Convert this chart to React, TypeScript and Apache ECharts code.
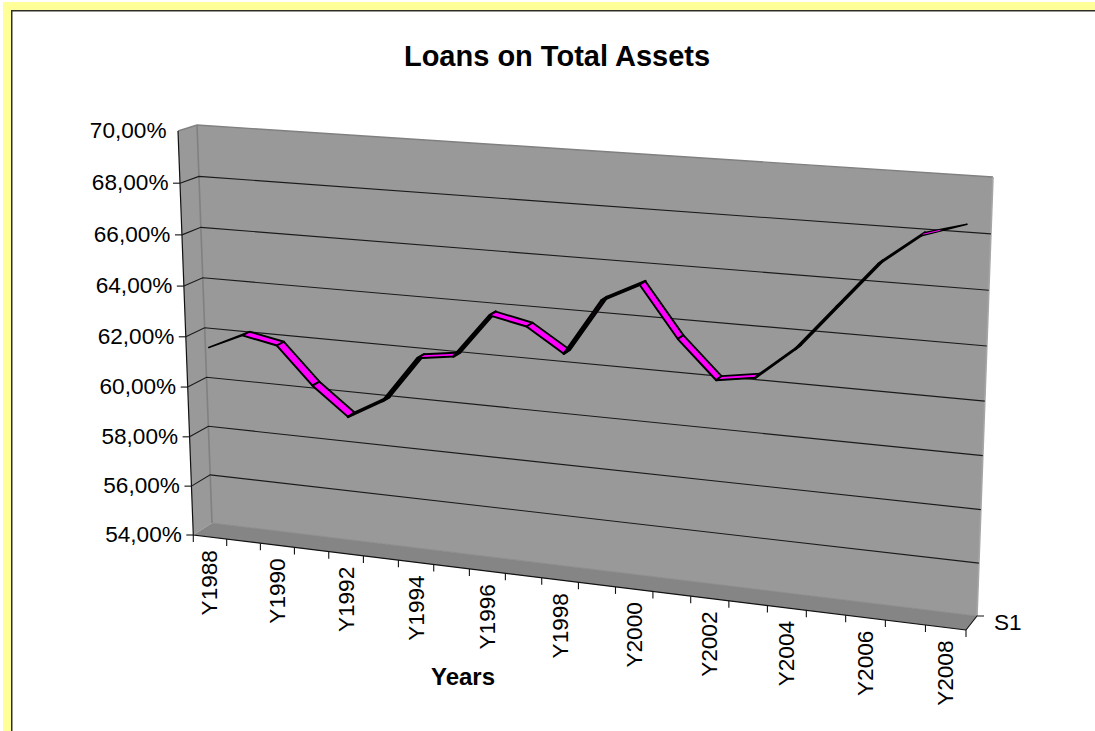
import React, { useEffect, useRef } from "react";
import * as echarts from "echarts";

const categories = ["Y1988","Y1989","Y1990","Y1991","Y1992","Y1993","Y1994","Y1995","Y1996","Y1997","Y1998","Y1999","Y2000","Y2001","Y2002","Y2003","Y2004","Y2005","Y2006","Y2007","Y2008"];
const loanValues = [61.53,62.14,61.87,60.42,59.33,60.1,61.9,62.1,63.8,63.5,62.6,64.72,65.43,63.54,62.14,62.37,63.56,65.22,66.87,67.98,68.38];
const yTicks = [54,56,58,60,62,64,66,68,70];
const yMin = 54;
const yMax = 70;

type P = [number, number];
const homography = (bl: P, br: P, tr: P, tl: P) => {
  const [x0, y0] = bl, [x1, y1] = br, [x2, y2] = tr, [x3, y3] = tl;
  const dx1 = x1 - x2, dx2 = x3 - x2, dx3 = x0 - x1 + x2 - x3;
  const dy1 = y1 - y2, dy2 = y3 - y2, dy3 = y0 - y1 + y2 - y3;
  const den = dx1 * dy2 - dx2 * dy1;
  const g = (dx3 * dy2 - dx2 * dy3) / den;
  const h = (dx1 * dy3 - dx3 * dy1) / den;
  const a = x1 - x0 + g * x1, b = x3 - x0 + h * x3, c = x0;
  const d = y1 - y0 + g * y1, e = y3 - y0 + h * y3, f = y0;
  return (u: number, v: number): P => {
    const w = g * u + h * v + 1;
    return [(a * u + b * v + c) / w, (d * u + e * v + f) / w];
  };
};

const W = 1095, H = 731;
const backBL: P = [212, 523], backBR: P = [977, 616], backTR: P = [993, 177], backTL: P = [197, 125];
const frontBL: P = [193.3, 535], frontBR: P = [966, 630], frontTR: P = [982, 185], frontTL: P = [178, 131];
const back = homography(backBL, backBR, backTR, backTL);
const front = homography(frontBL, frontBR, frontTR, frontTL);
const project = (u: number, v: number, z: number): P => {
  const a = back(u, v), b = front(u, v);
  return [a[0] + (b[0] - a[0]) * z, a[1] + (b[1] - a[1]) * z];
};
const uv = (pt: number[]): P => [pt[0] / W, 1 - pt[1] / H];

const FONT = '"Liberation Sans", Arial, sans-serif';
const labelSize = 22.6;
const lineShape = (pts: P[]) => ({ points: pts });
const poly = (pts: P[], fill: string, stroke?: string, lw = 1) => ({
  type: "polygon", shape: lineShape(pts), style: { fill, stroke: stroke || "none", lineWidth: lw, lineJoin: "round" },
});
const pline = (pts: P[], stroke: string, lw = 1) => ({
  type: "polyline", shape: lineShape(pts), style: { fill: "none", stroke, lineWidth: lw },
});

const renderWalls = () => ({
  type: "group",
  children: [
    poly([backTL, backTR, backBR, backBL], "#999999"),
    poly([frontTL, backTL, backBL, frontBL], "#999999"),
    poly([backBL, backBR, frontBR, frontBL], "#858585"),
    pline([frontTL, backTL, backTR], "#808080", 1.4),
    pline([backTL, backBL], "#808080", 1.6),
    pline([backTR, backBR], "#a6a6a6", 1.6),
    pline([backBL, backBR], "#8c8c8c", 1),
    pline([frontTL, frontBL, frontBR], "#111", 1.2),
  ],
});

const renderYTick = (_: any, api: any) => {
  const [, v] = uv(api.coord([0, api.value(1)]));
  const value = api.value(1);
  const f = front(0, v), b = back(0, v), r = back(1, v);
  const children: any[] = [];
  if (value > yMin && value < yMax) {
    children.push(pline([f, b, r], "#1a1a1a", 1.1));
  }
  if (value < yMax) children.push(pline([f, [f[0] - 7, f[1]]], "#111", 1.1));
  children.push({
    type: "text",
    x: f[0] - 11.5,
    y: f[1] - 0.8,
    style: {
      text: value.toFixed(2).replace(".", ",") + "%",
      textAlign: "right", textVerticalAlign: "middle",
      fontFamily: FONT, fontSize: labelSize, fill: "#000",
    },
  });
  return { type: "group", children };
};

const renderXTick = (params: any, api: any) => {
  const i = params.dataIndex;
  const c = api.coord([i, yMin]);
  const band = api.size([1, 0])[0];
  const uL = (c[0] - band / 2) / W, uC = c[0] / W, uR = (c[0] + band / 2) / W;
  const children: any[] = [];
  const tick = (u: number) => {
    const p = front(u, 0);
    children.push(pline([p, [p[0], p[1] + 7]], "#111", 1.1));
  };
  tick(uL);
  if (i === categories.length - 1) tick(uR);
  if (i % 2 === 0) {
    const p = front(uC, 0);
    children.push({
      type: "text", x: p[0], y: p[1] + 13, rotation: Math.PI / 2,
      style: {
        text: categories[i], textAlign: "right", textVerticalAlign: "middle",
        fontFamily: FONT, fontSize: labelSize, fill: "#000",
      },
    });
  }
  return { type: "group", children };
};

const zA = 0.3, zB = 0.7;
const renderRibbon = (params: any, api: any) => {
  const i = params.dataIndex;
  if (i >= loanValues.length - 1) return { type: "group", children: [] };
  const [u0, v0] = uv(api.coord([i, loanValues[i]]));
  const [u1, v1] = uv(api.coord([i + 1, loanValues[i + 1]]));
  const first = i === 0, last = i === loanValues.length - 2;
  const a0 = project(u0, v0, first ? zB : zA);
  const b0 = project(u0, v0, zB);
  const a1 = project(u1, v1, zA);
  const b1 = project(u1, v1, last ? zA : zB);
  const rising = loanValues[i + 1] - loanValues[i] > 0.5;
  const children: any[] = [poly([a0, a1, b1, b0], first || last ? "#000" : "#ff00ff", "#000", first || last ? 1.6 : rising ? 2.6 : 1.9)];
  if (last) {
    const m0 = project(u0, v0, 0.5);
    const m1 = project(u0 + (u1 - u0) * 0.4, v0 + (v1 - v0) * 0.4, 0.42);
    children.push(pline([m0, m1], "#ff00ff", 1));
  }
  return { type: "group", children };
};

export default function App() {
  const ref = useRef<HTMLDivElement>(null);
  useEffect(() => {
    const chart = echarts.init(ref.current!, undefined, { renderer: "svg" });
    const custom = (name: string, renderItem: any, data: any[], z: number) => ({
      type: "custom", name, renderItem, data, z, clip: false, silent: true,
      coordinateSystem: "cartesian2d", encode: { x: 0, y: 1 },
    });
    chart.setOption({
      animation: false,
      backgroundColor: "#fff",
      title: {
        text: "Loans on Total Assets", left: 552, top: 36, textAlign: "center",
        textStyle: { fontFamily: FONT, fontSize: 29, fontWeight: "bold", color: "#000" },
      },
      grid: { left: 0, right: 0, top: 0, bottom: 0 },
      xAxis: { type: "category", data: categories, show: false },
      yAxis: { type: "value", min: yMin, max: yMax, interval: 2, show: false },
      graphic: [
        { type: "rect", z: -3, shape: { x: 3, y: 2, width: W, height: H }, style: { fill: "#ffff99" } },
        { type: "rect", z: -2, shape: { x: 11, y: 10, width: W, height: H }, style: { fill: "#2e2e26" } },
        { type: "rect", z: -1, shape: { x: 12.5, y: 11.5, width: W, height: H }, style: { fill: "#fff" } },
        { type: "text", z: 5, x: 463, y: 676, style: { text: "Years", textAlign: "center", textVerticalAlign: "middle", fontFamily: FONT, fontSize: 24, fontWeight: "bold", fill: "#000" } },
        { type: "text", z: 5, x: 994, y: 622, style: { text: "S1", textAlign: "left", textVerticalAlign: "middle", fontFamily: FONT, fontSize: 22.6, fill: "#000" } },
        { type: "polyline", z: 5, shape: { points: [frontBR, backBR, [backBR[0] + 7, backBR[1]]] }, style: { fill: "none", stroke: "#111", lineWidth: 1.1 } },
      ],
      series: [
        custom("walls", renderWalls, [[0, yMin]], 1),
        custom("yTicks", renderYTick, yTicks.map((t) => [0, t]), 2),
        custom("xTicks", renderXTick, categories.map((_, i) => [i, yMin]), 3),
        custom("Loans on Total Assets", renderRibbon, loanValues.map((v, i) => [i, v]), 4),
      ],
    });
    return () => chart.dispose();
  }, []);
  return <div ref={ref} style={{ position: "absolute", left: 0, top: 0, width: W, height: H }} />;
}
